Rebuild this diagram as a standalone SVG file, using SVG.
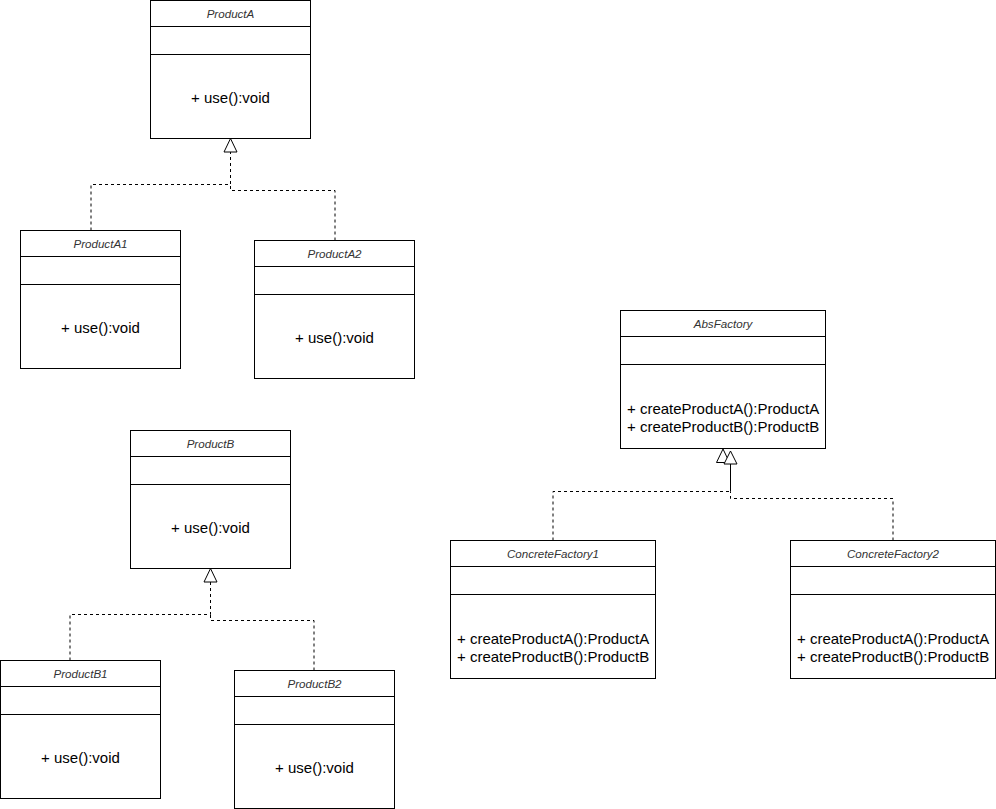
<svg xmlns="http://www.w3.org/2000/svg" width="996" height="809" viewBox="0 0 996 809">
<style>
.box{fill:#fff;stroke:#000;stroke-width:1}
.sep{stroke:#000;stroke-width:1}
.ttl{font-family:"Liberation Sans",Arial,sans-serif;font-size:11.6px;font-style:italic;fill:#333;text-anchor:middle}
.op{font-family:"Liberation Sans",Arial,sans-serif;font-size:15px;fill:#000}
.opc{text-anchor:middle}
.dash{fill:none;stroke:#000;stroke-width:1;stroke-dasharray:3 3}
.tri{fill:#fff;stroke:#000;stroke-width:1}
</style>
<rect width="996" height="809" fill="#fff"/>
<g id="connectors">
<path class="dash" d="M91 230.5 V184.5 H230.5 V152"/>
<path class="dash" d="M335 240.5 V190.5 H230.5 V184.5"/>
<path class="dash" d="M70 660.5 V614.5 H210.5 V582"/>
<path class="dash" d="M314 670.5 V620.5 H210.5 V614.5"/>
<path class="dash" d="M553 540.5 V491.5 H730.5"/>
<path fill="none" stroke="#000" stroke-width="1" d="M730.5 491.5 V462.5 H723"/>
<path class="dash" d="M893 540.5 V498.5 H730.5 V491.5"/>
<path class="tri" d="M230.5 138.5 L237 152 L224 152 Z"/>
<path class="tri" d="M210.5 568.5 L217 582 L204 582 Z"/>
<path class="tri" d="M723 449 L729.5 462.5 L716.5 462.5 Z"/>
<path class="tri" d="M730.5 451 L737 464 L724 464 Z"/>
</g>
<g id="ProductA">
<rect class="box" x="150.5" y="0.5" width="160" height="138"/>
<line class="sep" x1="150.5" y1="26.5" x2="310.5" y2="26.5"/>
<line class="sep" x1="150.5" y1="54.5" x2="310.5" y2="54.5"/>
<text class="ttl" x="230.5" y="18">ProductA</text>
<text class="op opc" x="230.5" y="103">+ use():void</text>
</g>
<g id="ProductA1">
<rect class="box" x="20.5" y="230.5" width="160" height="138"/>
<line class="sep" x1="20.5" y1="256.5" x2="180.5" y2="256.5"/>
<line class="sep" x1="20.5" y1="284.5" x2="180.5" y2="284.5"/>
<text class="ttl" x="100.5" y="248">ProductA1</text>
<text class="op opc" x="100.5" y="333">+ use():void</text>
</g>
<g id="ProductA2">
<rect class="box" x="254.5" y="240.5" width="160" height="138"/>
<line class="sep" x1="254.5" y1="266.5" x2="414.5" y2="266.5"/>
<line class="sep" x1="254.5" y1="294.5" x2="414.5" y2="294.5"/>
<text class="ttl" x="334.5" y="258">ProductA2</text>
<text class="op opc" x="334.5" y="343">+ use():void</text>
</g>
<g id="ProductB">
<rect class="box" x="130.5" y="430.5" width="160" height="138"/>
<line class="sep" x1="130.5" y1="456.5" x2="290.5" y2="456.5"/>
<line class="sep" x1="130.5" y1="484.5" x2="290.5" y2="484.5"/>
<text class="ttl" x="210.5" y="448">ProductB</text>
<text class="op opc" x="210.5" y="533">+ use():void</text>
</g>
<g id="ProductB1">
<rect class="box" x="0.5" y="660.5" width="160" height="138"/>
<line class="sep" x1="0.5" y1="686.5" x2="160.5" y2="686.5"/>
<line class="sep" x1="0.5" y1="714.5" x2="160.5" y2="714.5"/>
<text class="ttl" x="80.5" y="678">ProductB1</text>
<text class="op opc" x="80.5" y="763">+ use():void</text>
</g>
<g id="ProductB2">
<rect class="box" x="234.5" y="670.5" width="160" height="138"/>
<line class="sep" x1="234.5" y1="696.5" x2="394.5" y2="696.5"/>
<line class="sep" x1="234.5" y1="724.5" x2="394.5" y2="724.5"/>
<text class="ttl" x="314.5" y="688">ProductB2</text>
<text class="op opc" x="314.5" y="773">+ use():void</text>
</g>
<g id="AbsFactory">
<rect class="box" x="620.5" y="310.5" width="205" height="138"/>
<line class="sep" x1="620.5" y1="336.5" x2="825.5" y2="336.5"/>
<line class="sep" x1="620.5" y1="364.5" x2="825.5" y2="364.5"/>
<text class="ttl" x="723" y="328">AbsFactory</text>
<text class="op" x="627" y="414">+ createProductA():ProductA</text>
<text class="op" x="627" y="432">+ createProductB():ProductB</text>
</g>
<g id="ConcreteFactory1">
<rect class="box" x="450.5" y="540.5" width="205" height="138"/>
<line class="sep" x1="450.5" y1="566.5" x2="655.5" y2="566.5"/>
<line class="sep" x1="450.5" y1="594.5" x2="655.5" y2="594.5"/>
<text class="ttl" x="553" y="558">ConcreteFactory1</text>
<text class="op" x="457" y="644">+ createProductA():ProductA</text>
<text class="op" x="457" y="662">+ createProductB():ProductB</text>
</g>
<g id="ConcreteFactory2">
<rect class="box" x="790.5" y="540.5" width="205" height="138"/>
<line class="sep" x1="790.5" y1="566.5" x2="995.5" y2="566.5"/>
<line class="sep" x1="790.5" y1="594.5" x2="995.5" y2="594.5"/>
<text class="ttl" x="893" y="558">ConcreteFactory2</text>
<text class="op" x="797" y="644">+ createProductA():ProductA</text>
<text class="op" x="797" y="662">+ createProductB():ProductB</text>
</g>
</svg>
